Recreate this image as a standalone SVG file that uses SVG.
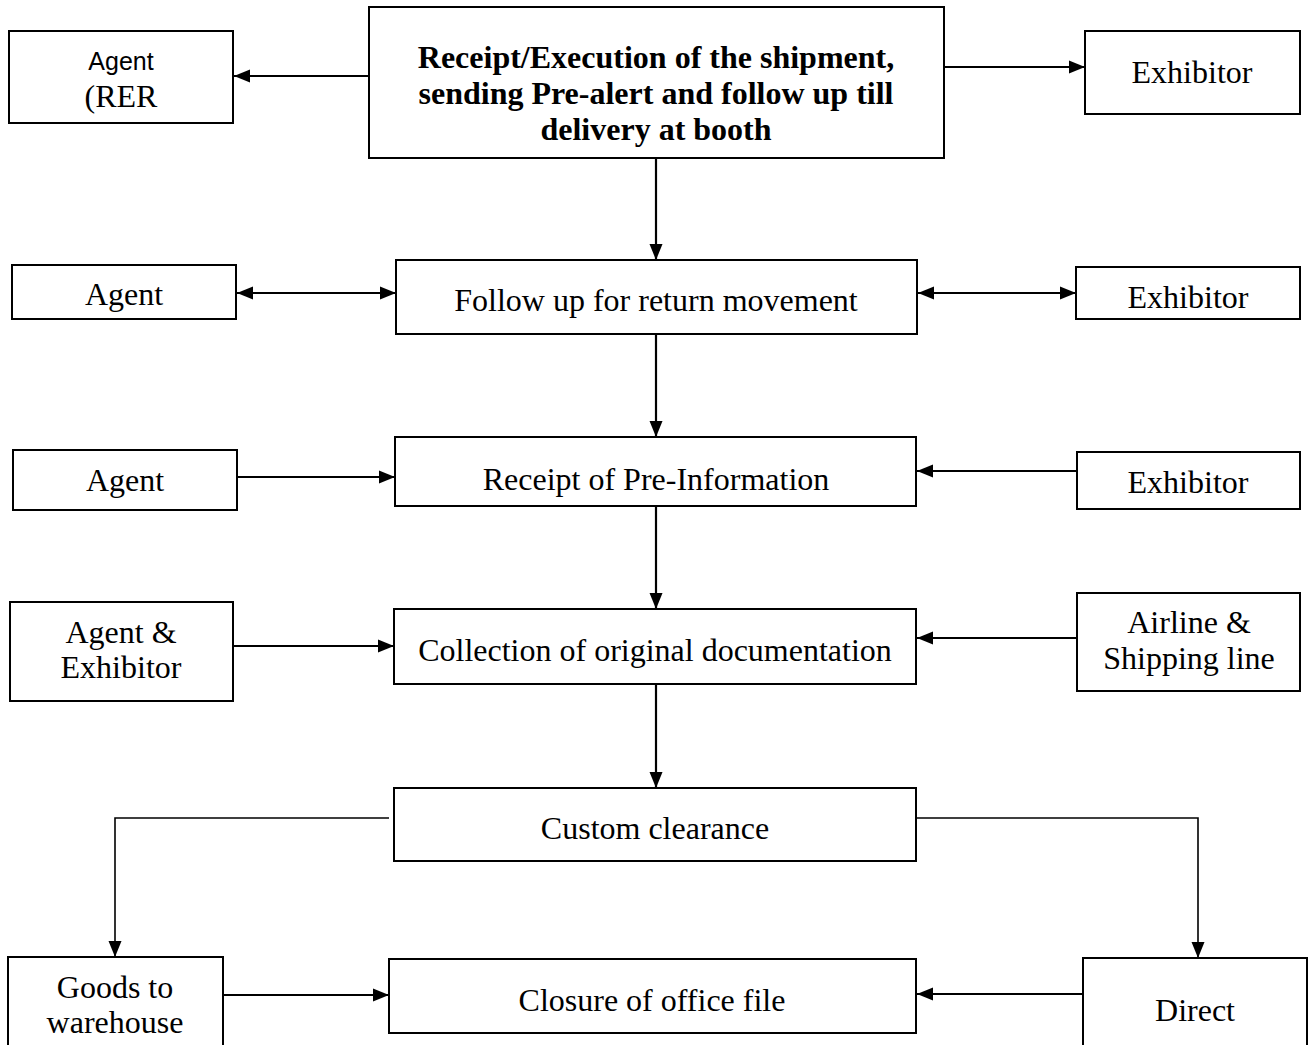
<svg xmlns="http://www.w3.org/2000/svg" width="1313" height="1045" viewBox="0 0 1313 1045">
<defs>
<marker id="ah" markerUnits="userSpaceOnUse" markerWidth="16" markerHeight="14" refX="16" refY="7" orient="auto-start-reverse">
<path d="M0,0.5 L16,7 L0,13.5 z" fill="#000"/>
</marker>
</defs>
<style>
.box{fill:#fff;stroke:#000;stroke-width:2}
.t{font-family:"Liberation Serif","Times New Roman",serif;font-size:32px;fill:#000;text-anchor:middle}
.b{font-weight:bold}
.s{font-family:"Liberation Sans",Arial,sans-serif;font-size:25px;fill:#000;text-anchor:middle}
.c{fill:none;stroke:#000;stroke-width:2.2}
.c2{fill:none;stroke:#000;stroke-width:1.6}
</style>
<rect width="1313" height="1045" fill="#fff"/>
<g id="connectors">
<line class="c" x1="369" y1="76" x2="234" y2="76" marker-end="url(#ah)"/>
<line class="c" x1="944" y1="67" x2="1085" y2="67" marker-end="url(#ah)"/>
<line class="c" x1="656" y1="158" x2="656" y2="260" marker-end="url(#ah)"/>
<line class="c" x1="237" y1="293" x2="396" y2="293" marker-start="url(#ah)" marker-end="url(#ah)"/>
<line class="c" x1="918" y1="293" x2="1076" y2="293" marker-start="url(#ah)" marker-end="url(#ah)"/>
<line class="c" x1="656" y1="334" x2="656" y2="437" marker-end="url(#ah)"/>
<line class="c" x1="237" y1="477" x2="395" y2="477" marker-end="url(#ah)"/>
<line class="c" x1="1077" y1="471" x2="917" y2="471" marker-end="url(#ah)"/>
<line class="c" x1="656" y1="506" x2="656" y2="609" marker-end="url(#ah)"/>
<line class="c" x1="233" y1="646" x2="394" y2="646" marker-end="url(#ah)"/>
<line class="c" x1="1077" y1="638" x2="917" y2="638" marker-end="url(#ah)"/>
<line class="c" x1="656" y1="684" x2="656" y2="788" marker-end="url(#ah)"/>
<path class="c2" d="M389,818 H115 V957" marker-end="url(#ah)"/>
<path class="c2" d="M916,818 H1198 V958" marker-end="url(#ah)"/>
<line class="c" x1="223" y1="995" x2="389" y2="995" marker-end="url(#ah)"/>
<line class="c" x1="1083" y1="994" x2="917" y2="994" marker-end="url(#ah)"/>
</g>
<g id="n-main">
<rect class="box" x="369" y="7" width="575" height="151"/>
<text class="t b" x="656" y="68">Receipt/Execution of the shipment,</text>
<text class="t b" x="656" y="104">sending Pre-alert and follow up till</text>
<text class="t b" x="656" y="140">delivery at booth</text>
</g>
<g id="n-agent-rer">
<rect class="box" x="9" y="31" width="224" height="92"/>
<text class="s" x="121" y="70">Agent</text>
<text class="t" x="121" y="107">(RER</text>
</g>
<g id="n-exhibitor1">
<rect class="box" x="1085" y="31" width="215" height="83"/>
<text class="t" x="1192" y="83">Exhibitor</text>
</g>
<g id="n-agent2">
<rect class="box" x="12" y="265" width="224" height="54"/>
<text class="t" x="124" y="305">Agent</text>
</g>
<g id="n-followup">
<rect class="box" x="396" y="260" width="521" height="74"/>
<text class="t" x="656" y="311">Follow up for return movement</text>
</g>
<g id="n-exhibitor2">
<rect class="box" x="1076" y="267" width="224" height="52"/>
<text class="t" x="1188" y="308">Exhibitor</text>
</g>
<g id="n-agent3">
<rect class="box" x="13" y="450" width="224" height="60"/>
<text class="t" x="125" y="491">Agent</text>
</g>
<g id="n-preinfo">
<rect class="box" x="395" y="437" width="521" height="69"/>
<text class="t" x="656" y="490">Receipt of Pre-Information</text>
</g>
<g id="n-exhibitor3">
<rect class="box" x="1077" y="452" width="223" height="57"/>
<text class="t" x="1188" y="493">Exhibitor</text>
</g>
<g id="n-agent-exhibitor">
<rect class="box" x="10" y="602" width="223" height="99"/>
<text class="t" x="121" y="643">Agent &amp;</text>
<text class="t" x="121" y="678">Exhibitor</text>
</g>
<g id="n-collection">
<rect class="box" x="394" y="609" width="522" height="75"/>
<text class="t" x="655" y="661">Collection of original documentation</text>
</g>
<g id="n-airline">
<rect class="box" x="1077" y="593" width="223" height="98"/>
<text class="t" x="1189" y="633">Airline &amp;</text>
<text class="t" x="1189" y="669">Shipping line</text>
</g>
<g id="n-custom">
<rect class="box" x="394" y="788" width="522" height="73"/>
<text class="t" x="655" y="839">Custom clearance</text>
</g>
<g id="n-goods">
<rect class="box" x="8" y="957" width="215" height="100"/>
<text class="t" x="115" y="998">Goods to</text>
<text class="t" x="115" y="1033">warehouse</text>
</g>
<g id="n-closure">
<rect class="box" x="389" y="959" width="527" height="74"/>
<text class="t" x="652" y="1011">Closure of office file</text>
</g>
<g id="n-direct">
<rect class="box" x="1083" y="958" width="224" height="100"/>
<text class="t" x="1195" y="1021">Direct</text>
</g>
</svg>
